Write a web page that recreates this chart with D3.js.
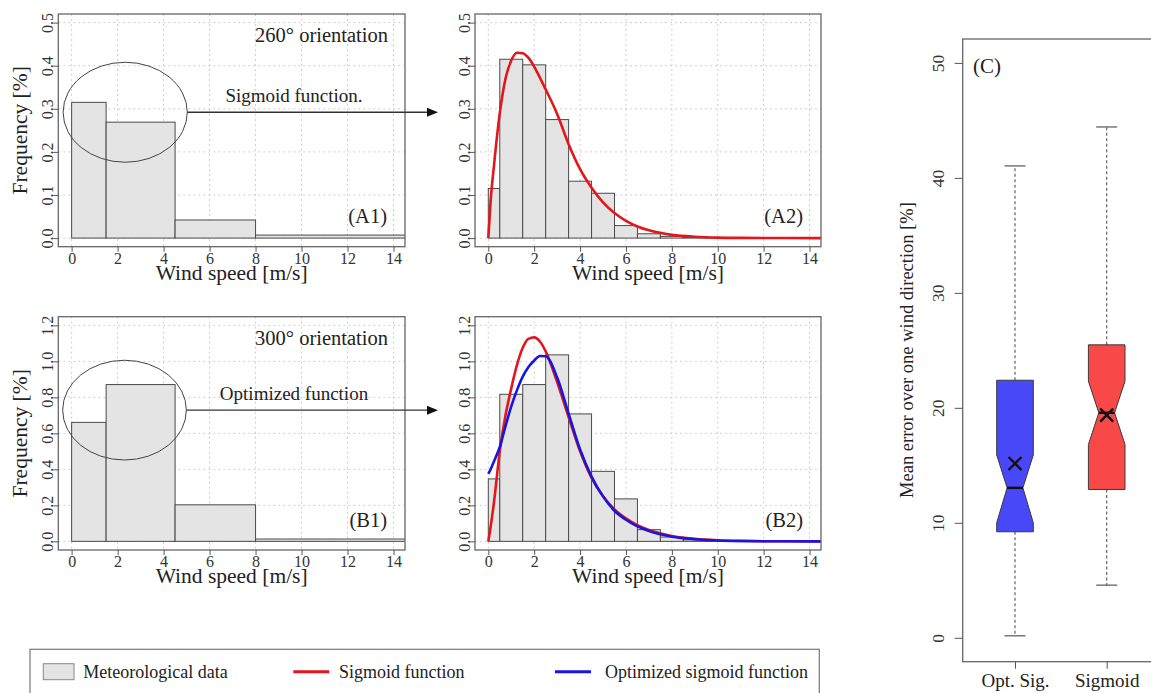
<!DOCTYPE html>
<html>
<head>
<meta charset="utf-8">
<script src="https://cdn.jsdelivr.net/npm/d3@7"></script>
<style>
  body { margin: 0; background: #fff; }
  svg, svg text { font-family: "Liberation Serif", "Times New Roman", serif; }
  svg { display: block; }
</style>
</head>
<body>
<svg id="chart" width="1151" height="693"></svg>
<script>
// ---------------- data ----------------
const speedTicks = [0, 2, 4, 6, 8, 10, 12, 14];
const freqTicksA = [0, 0.1, 0.2, 0.3, 0.4, 0.5];
const freqTicksB = [0, 0.2, 0.4, 0.6, 0.8, 1.0, 1.2];

// coarse bins (A1, B1)
const coarseEdges = [0, 1.5, 4.5, 8, 20];
const a1Freq = [0.315, 0.269, 0.042, 0.007];
const b1Freq = [0.661, 0.871, 0.203, 0.013];

// fine bins (A2, B2)
const fineEdges = [0, 0.5, 1.5, 2.5, 3.5, 4.5, 5.5, 6.5, 7.5, 8.5, 9.5, 10.5];
const a2Freq = [0.115, 0.415, 0.402, 0.275, 0.132, 0.104, 0.029, 0.010, 0.004, 0.0015, 0.0005];
const b2Freq = [0.347, 0.817, 0.871, 1.036, 0.708, 0.389, 0.236, 0.065, 0.024, 0.009, 0.003];

// fitted curves, sampled on one speed grid
const curveSpeed = [0, 0.1, 0.25, 0.5, 0.75, 1, 1.25, 1.5, 1.75, 2, 2.25, 2.5, 3, 3.5, 4, 4.5, 5, 5.5, 6, 6.5, 7, 8, 9, 10, 11, 12, 13, 14.5];
const a2Sigmoid = [0, 0.085, 0.17, 0.29, 0.37, 0.412, 0.43, 0.429, 0.418, 0.398, 0.372, 0.345, 0.288, 0.218, 0.16, 0.117, 0.083, 0.058, 0.04, 0.027, 0.018, 0.0075, 0.003, 0.001, 0.0004, 0.0002, 0.0001, 0];
const b2Sigmoid = [0, 0.08, 0.22, 0.5, 0.7, 0.85, 0.98, 1.075, 1.125, 1.133, 1.11, 1.055, 0.885, 0.69, 0.5, 0.352, 0.25, 0.178, 0.128, 0.09, 0.063, 0.03, 0.014, 0.006, 0.0025, 0.001, 0.0004, 0];
const b2Optimized = [0.375, 0.4, 0.445, 0.525, 0.64, 0.75, 0.84, 0.915, 0.968, 1.005, 1.03, 1.028, 0.91, 0.71, 0.51, 0.36, 0.25, 0.17, 0.12, 0.083, 0.057, 0.026, 0.012, 0.005, 0.002, 0.0008, 0.0003, 0];

// boxplot (C)
const boxCats = ["Opt. Sig.", "Sigmoid"];
const whiskerLow = [0.17, 4.58];
const q1 = [9.22, 12.9];
const notchLow = [10.0, 16.81];
const median = [13.04, 19.57];
const notchHigh = [15.9, 22.32];
const q3 = [22.4, 25.48];
const whiskerHigh = [41.04, 44.43];
const means = [15.16, 19.36];
const errTicks = [0, 10, 20, 30, 40, 50];

const legendLabels = ["Meteorological data", "Sigmoid function", "Optimized sigmoid function"];

// ---------------- drawing ----------------
const svg = d3.select("#chart");
const SERIF = '"Liberation Serif", "Times New Roman", serif';
const RED = "#e3161c", BLUE = "#1616e0", AXIS = "#555";

function styleAxis(sel, size) {
  sel.attr("font-family", null).attr("font-size", size);
  sel.select(".domain").remove();
  sel.selectAll("line").attr("stroke", AXIS);
  sel.selectAll("text").attr("fill", "#333")
    .style("font-family", SERIF).style("font-size", size + "px");
}

function histPanel(p) {
  const x = d3.scaleLinear().domain([-0.58, 14.5]).range([p.left, p.right]);
  const y = d3.scaleLinear().domain([-0.04 * p.yMax, 1.04 * p.yMax]).range([p.bottom, p.top]);
  const g = svg.append("g");
  const clipId = "clip" + p.name;
  g.append("clipPath").attr("id", clipId).append("rect")
    .attr("x", p.left).attr("y", p.top).attr("width", p.right - p.left).attr("height", p.bottom - p.top);

  // grid
  g.append("g").selectAll("line").data(speedTicks).join("line")
    .attr("x1", d => x(d)).attr("x2", d => x(d)).attr("y1", p.top).attr("y2", p.bottom)
    .attr("stroke", "#cfcfcf").attr("stroke-dasharray", "2,3");
  g.append("g").selectAll("line").data(p.yTicks).join("line")
    .attr("x1", p.left).attr("x2", p.right).attr("y1", d => y(d)).attr("y2", d => y(d))
    .attr("stroke", "#cfcfcf").attr("stroke-dasharray", "2,3");

  // bars
  const bins = p.freq.map((f, i) => ({x0: p.edges[i], x1: p.edges[i + 1], f}));
  g.append("g").attr("clip-path", `url(#${clipId})`)
    .selectAll("rect").data(bins).join("rect")
    .attr("x", d => x(d.x0)).attr("width", d => x(d.x1) - x(d.x0))
    .attr("y", d => y(d.f)).attr("height", d => y(0) - y(d.f))
    .attr("fill", "#e4e4e4").attr("stroke", "#4a4a4a").attr("stroke-width", 1);

  // curves
  const line = d3.line().x(d => x(d[0])).y(d => y(d[1])).curve(d3.curveMonotoneX);
  (p.curves || []).forEach(c => {
    g.append("path").attr("clip-path", `url(#${clipId})`)
      .datum(d3.zip(curveSpeed, c.values)).attr("d", line)
      .attr("fill", "none").attr("stroke", c.color).attr("stroke-width", 2.6);
  });

  // frame
  g.append("rect").attr("x", p.left).attr("y", p.top)
    .attr("width", p.right - p.left).attr("height", p.bottom - p.top)
    .attr("fill", "none").attr("stroke", "#666").attr("stroke-width", 1.3);

  // axes
  const gx = g.append("g").attr("transform", `translate(0,${p.bottom})`)
    .call(d3.axisBottom(x).tickValues(speedTicks).tickSize(5).tickPadding(1));
  styleAxis(gx, 16);

  const gy = g.append("g").attr("transform", `translate(${p.left},0)`)
    .call(d3.axisLeft(y).tickValues(p.yTicks).tickSize(5).tickFormat(d3.format(".1f")));
  styleAxis(gy, 16);
  gy.selectAll("text")
    .attr("transform", "rotate(-90)").attr("x", 0).attr("y", -5).attr("dy", 0)
    .attr("text-anchor", "middle");

  g.append("text").attr("x", (p.left + p.right) / 2).attr("y", p.bottom + 33)
    .attr("text-anchor", "middle").attr("font-size", 21.5).attr("fill", "#222")
    .text("Wind speed [m/s]");
  if (p.yTitle) {
    g.append("text").attr("transform", `translate(27,${(p.top + p.bottom) / 2}) rotate(-90)`)
      .attr("text-anchor", "middle").attr("font-size", 21.5).attr("fill", "#222")
      .text("Frequency [%]");
  }
  g.append("text").attr("x", p.right - 18).attr("y", p.bottom - 23.5)
    .attr("text-anchor", "end").attr("font-size", 20.5).attr("fill", "#222").text(p.tag);
  if (p.title) {
    g.append("text").attr("x", p.right - 17).attr("y", p.top + 28)
      .attr("text-anchor", "end").attr("font-size", 20.5).attr("fill", "#222").text(p.title);
  }
  if (p.ellipse) {
    const e = p.ellipse;
    g.append("ellipse").attr("cx", x(e.cx)).attr("cy", y(e.cy))
      .attr("rx", x(e.cx + e.rx) - x(e.cx)).attr("ry", y(e.cy - e.ry) - y(e.cy))
      .attr("fill", "none").attr("stroke", "#444").attr("stroke-width", 1);
    const ay = y(e.cy), ax0 = x(e.cx + e.rx), ax1 = 438;
    g.append("line").attr("x1", ax0).attr("x2", ax1 - 9).attr("y1", ay).attr("y2", ay)
      .attr("stroke", "#333").attr("stroke-width", 1.4);
    g.append("path").attr("d", `M${ax1},${ay} L${ax1 - 11},${ay - 4.5} L${ax1 - 11},${ay + 4.5} Z`)
      .attr("fill", "#111");
    g.append("text").attr("x", 294).attr("y", ay - 10).attr("text-anchor", "middle")
      .attr("font-size", 19).attr("fill", "#222").text(e.label);
  }
}

histPanel({name: "A1", left: 58.3, right: 405, top: 14, bottom: 246.7, yMax: 0.5, yTicks: freqTicksA,
  edges: coarseEdges, freq: a1Freq, tag: "(A1)", title: "260\u00b0 orientation", yTitle: true,
  ellipse: {cx: 2.33, cy: 0.292, rx: 2.7, ry: 0.116, label: "Sigmoid function."}});
histPanel({name: "A2", left: 475, right: 821, top: 14, bottom: 246.7, yMax: 0.5, yTicks: freqTicksA,
  edges: fineEdges, freq: a2Freq, tag: "(A2)",
  curves: [{values: a2Sigmoid, color: RED}]});
histPanel({name: "B1", left: 58.3, right: 405, top: 316.7, bottom: 550, yMax: 1.2, yTicks: freqTicksB,
  edges: coarseEdges, freq: b1Freq, tag: "(B1)", title: "300\u00b0 orientation", yTitle: true,
  ellipse: {cx: 2.3, cy: 0.729, rx: 2.69, ry: 0.277, label: "Optimized function"}});
histPanel({name: "B2", left: 475, right: 821, top: 316.7, bottom: 550, yMax: 1.2, yTicks: freqTicksB,
  edges: fineEdges, freq: b2Freq, tag: "(B2)",
  curves: [{values: b2Sigmoid, color: RED}, {values: b2Optimized, color: BLUE}]});

// ---------------- panel C: notched boxplots ----------------
(function () {
  const left = 962.7, right = 1200, top = 39, bottom = 661.7;
  const y = d3.scaleLinear().domain([-2.08, 52.08]).range([bottom, top]);
  const x = d3.scaleLinear().domain([1, 2]).range([1015, 1106.7]);
  const fills = ["#4848f8", "#f84848"];
  const g = svg.append("g");
  g.append("rect").attr("x", left).attr("y", top).attr("width", right - left).attr("height", bottom - top)
    .attr("fill", "none").attr("stroke", "#666").attr("stroke-width", 1.3);

  const hw = 18.3, nw = 7.9, cap = 10.5;
  boxCats.forEach((c, i) => {
    const cx = x(i + 1);
    // whiskers
    [[q3[i], whiskerHigh[i]], [q1[i], whiskerLow[i]]].forEach(([a, b]) => {
      g.append("line").attr("x1", cx).attr("x2", cx).attr("y1", y(a)).attr("y2", y(b))
        .attr("stroke", "#555").attr("stroke-dasharray", "3,2.5").attr("stroke-width", 1.1);
      g.append("line").attr("x1", cx - cap).attr("x2", cx + cap).attr("y1", y(b)).attr("y2", y(b))
        .attr("stroke", "#555").attr("stroke-width", 1.2);
    });
    const pts = [
      [cx - hw, y(q1[i])], [cx - hw, y(notchLow[i])], [cx - nw, y(median[i])],
      [cx - hw, y(notchHigh[i])], [cx - hw, y(q3[i])], [cx + hw, y(q3[i])],
      [cx + hw, y(notchHigh[i])], [cx + nw, y(median[i])], [cx + hw, y(notchLow[i])],
      [cx + hw, y(q1[i])]
    ];
    g.append("path").attr("d", "M" + pts.join("L") + "Z")
      .attr("fill", fills[i]).attr("stroke", "#3a3a3a").attr("stroke-width", 1);
    g.append("line").attr("x1", cx - nw).attr("x2", cx + nw).attr("y1", y(median[i])).attr("y2", y(median[i]))
      .attr("stroke", "#111").attr("stroke-width", 2.4);
    const my = y(means[i]), s = 6.5;
    g.append("path").attr("d", `M${cx - s},${my - s}L${cx + s},${my + s}M${cx - s},${my + s}L${cx + s},${my - s}`)
      .attr("stroke", "#111").attr("stroke-width", 2.4);
  });

  const gy = g.append("g").attr("transform", `translate(${left},0)`)
    .call(d3.axisLeft(y).tickValues(errTicks).tickSize(8));
  styleAxis(gy, 17.5);
  gy.selectAll("text")
    .attr("transform", "rotate(-90)").attr("x", 0).attr("y", -19).attr("dy", 0)
    .attr("text-anchor", "middle");

  const gx = g.append("g").attr("transform", `translate(0,${bottom})`)
    .call(d3.axisBottom(x).tickValues([1, 2]).tickSize(7).tickPadding(5).tickFormat((d, i) => boxCats[i]));
  styleAxis(gx, 19);
  gx.selectAll("text").attr("fill", "#222");

  g.append("text").attr("transform", `translate(913,350) rotate(-90)`)
    .attr("text-anchor", "middle").attr("font-size", 18.5).attr("fill", "#222")
    .text("Mean error over one wind direction [%]");
  g.append("text").attr("x", 973).attr("y", 73).attr("font-size", 21).attr("fill", "#222").text("(C)");
})();

// ---------------- legend ----------------
(function () {
  const g = svg.append("g");
  g.append("rect").attr("x", 30).attr("y", 649.3).attr("width", 789.3).attr("height", 60)
    .attr("fill", "#fff").attr("stroke", "#777").attr("stroke-width", 1.2);
  const cy = 671.7;
  const items = [
    {kind: "box", x: 43.3, tx: 83.3},
    {kind: "line", x: 293.3, tx: 339, color: RED},
    {kind: "line", x: 555, tx: 605, color: BLUE}
  ];
  items.forEach((it, i) => {
    if (it.kind === "box") {
      g.append("rect").attr("x", it.x).attr("y", cy - 8).attr("width", 30.7).attr("height", 16)
        .attr("fill", "#e4e4e4").attr("stroke", "#888");
    } else {
      g.append("line").attr("x1", it.x).attr("x2", it.x + 36).attr("y1", cy).attr("y2", cy)
        .attr("stroke", it.color).attr("stroke-width", 3);
    }
    g.append("text").attr("x", it.tx).attr("y", cy).attr("dy", "0.35em")
      .attr("font-size", 18).attr("fill", "#222").text(legendLabels[i]);
  });
})();
</script>
</body>
</html>
